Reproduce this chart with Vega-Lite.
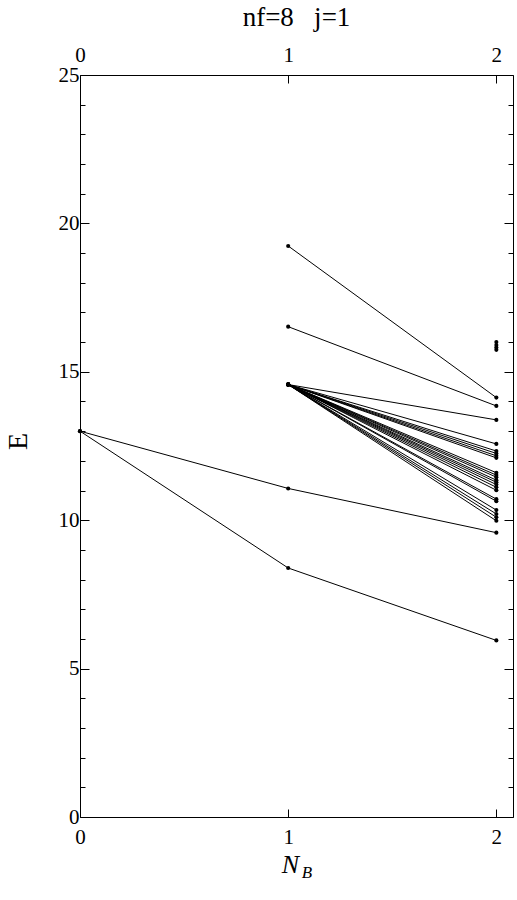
{
  "$schema": "https://vega.github.io/schema/vega-lite/v6.json",
  "width": 433,
  "height": 742,
  "autosize": {"type": "none"},
  "padding": {"left": 80, "top": 75, "right": 4, "bottom": 83},
  "background": "white",
  "title": {"text": "nf=8\u00a0\u00a0\u00a0j=1", "font": "Times New Roman, Liberation Serif, serif", "fontSize": 27, "fontWeight": "normal", "color": "black", "anchor": "middle", "offset": 12},
  "config": {
    "view": {"stroke": "black", "strokeWidth": 1},
    "axis": {"grid": false, "domain": false, "tickColor": "black", "labelColor": "black", "titleColor": "black", "labelFont": "Times New Roman, Liberation Serif, serif", "titleFont": "Times New Roman, Liberation Serif, serif", "labelFontSize": 21, "titleFontSize": 24, "titleFontWeight": "normal", "labelFlush": false, "format": "d"}
  },
  "data": {"values": [
    {"n": 0, "E": 13.0, "g": "a"}, {"n": 1, "E": 11.07, "g": "a"}, {"n": 2, "E": 9.58, "g": "a"},
    {"n": 0, "E": 13.0, "g": "b"}, {"n": 1, "E": 8.39, "g": "b"}, {"n": 2, "E": 5.95, "g": "b"},
    {"n": 1, "E": 19.24, "g": "c"}, {"n": 2, "E": 14.13, "g": "c"},
    {"n": 1, "E": 16.52, "g": "d"}, {"n": 2, "E": 13.85, "g": "d"},
    {"n": 1, "E": 14.57, "g": "e1"}, {"n": 2, "E": 13.38, "g": "e1"},
    {"n": 1, "E": 14.57, "g": "e2"}, {"n": 2, "E": 12.57, "g": "e2"},
    {"n": 1, "E": 14.57, "g": "e3"}, {"n": 2, "E": 12.33, "g": "e3"},
    {"n": 1, "E": 14.57, "g": "e4"}, {"n": 2, "E": 12.25, "g": "e4"},
    {"n": 1, "E": 14.57, "g": "e5"}, {"n": 2, "E": 12.17, "g": "e5"},
    {"n": 1, "E": 14.57, "g": "e6"}, {"n": 2, "E": 12.1, "g": "e6"},
    {"n": 1, "E": 14.57, "g": "e7"}, {"n": 2, "E": 11.6, "g": "e7"},
    {"n": 1, "E": 14.57, "g": "e8"}, {"n": 2, "E": 11.52, "g": "e8"},
    {"n": 1, "E": 14.57, "g": "e9"}, {"n": 2, "E": 11.45, "g": "e9"},
    {"n": 1, "E": 14.57, "g": "e10"}, {"n": 2, "E": 11.35, "g": "e10"},
    {"n": 1, "E": 14.57, "g": "e11"}, {"n": 2, "E": 11.28, "g": "e11"},
    {"n": 1, "E": 14.57, "g": "e12"}, {"n": 2, "E": 11.2, "g": "e12"},
    {"n": 1, "E": 14.57, "g": "e13"}, {"n": 2, "E": 11.11, "g": "e13"},
    {"n": 1, "E": 14.57, "g": "e14"}, {"n": 2, "E": 11.01, "g": "e14"},
    {"n": 1, "E": 14.57, "g": "e15"}, {"n": 2, "E": 10.71, "g": "e15"},
    {"n": 1, "E": 14.57, "g": "e16"}, {"n": 2, "E": 10.64, "g": "e16"},
    {"n": 1, "E": 14.57, "g": "e17"}, {"n": 2, "E": 10.34, "g": "e17"},
    {"n": 1, "E": 14.57, "g": "e18"}, {"n": 2, "E": 10.21, "g": "e18"},
    {"n": 1, "E": 14.57, "g": "e19"}, {"n": 2, "E": 10.1, "g": "e19"},
    {"n": 1, "E": 14.57, "g": "e20"}, {"n": 2, "E": 9.98, "g": "e20"},
    {"n": 2, "E": 16.0, "g": "p1"},
    {"n": 2, "E": 15.9, "g": "p2"},
    {"n": 2, "E": 15.82, "g": "p3"},
    {"n": 2, "E": 15.74, "g": "p4"}
  ]},
  "resolve": {"axis": {"x": "independent", "y": "independent"}},
  "layer": [
    {
      "mark": {"type": "line", "color": "black", "strokeWidth": 1},
      "encoding": {
        "x": {"field": "n", "type": "quantitative", "scale": {"domain": [0, 2.08], "nice": false, "zero": false},
              "axis": {"orient": "bottom", "values": [0, 1, 2], "tickSize": -8, "labelPadding": 17, "title": "N", "titleFontStyle": "italic", "titleFontSize": 26, "titleAnchor": null, "titleAlign": "center", "titleX": 210, "titlePadding": 4}},
        "y": {"field": "E", "type": "quantitative", "scale": {"domain": [0, 25], "nice": false},
              "axis": {"orient": "left", "values": [0,1,2,3,4,5,6,7,8,9,10,11,12,13,14,15,16,17,18,19,20,21,22,23,24,25], "labelExpr": "datum.value % 5 == 0 ? datum.label : ''", "tickSize": {"condition": {"test": "datum.value % 5 == 0", "value": -9}, "value": -5}, "labelPadding": 10, "title": "E", "titleFontSize": 28, "titleAngle": -90, "titleAlign": "center", "titleBaseline": "middle", "titleX": -62, "titleY": 366}},
        "detail": {"field": "g"}
      }
    },
    {
      "mark": {"type": "circle", "color": "black", "opacity": 1, "size": 17},
      "encoding": {
        "x": {"field": "n", "type": "quantitative", "axis": {"orient": "top", "values": [0, 1, 2], "tickSize": -8, "labelPadding": 18, "title": null}},
        "y": {"field": "E", "type": "quantitative", "axis": {"orient": "right", "values": [0,1,2,3,4,5,6,7,8,9,10,11,12,13,14,15,16,17,18,19,20,21,22,23,24,25], "labels": false, "tickSize": {"condition": {"test": "datum.value % 5 == 0", "value": -9}, "value": -5}, "title": null}}
      }
    },
    {
      "data": {"values": [{"sub": "B", "n": 1.09, "E": -1.9}]},
      "mark": {"type": "text", "font": "Times New Roman, Liberation Serif, serif", "fontSize": 17, "fontStyle": "italic", "color": "black", "clip": false},
      "encoding": {
        "x": {"field": "n", "type": "quantitative", "axis": null},
        "y": {"field": "E", "type": "quantitative", "axis": null},
        "text": {"field": "sub"}
      }
    }
  ]
}
